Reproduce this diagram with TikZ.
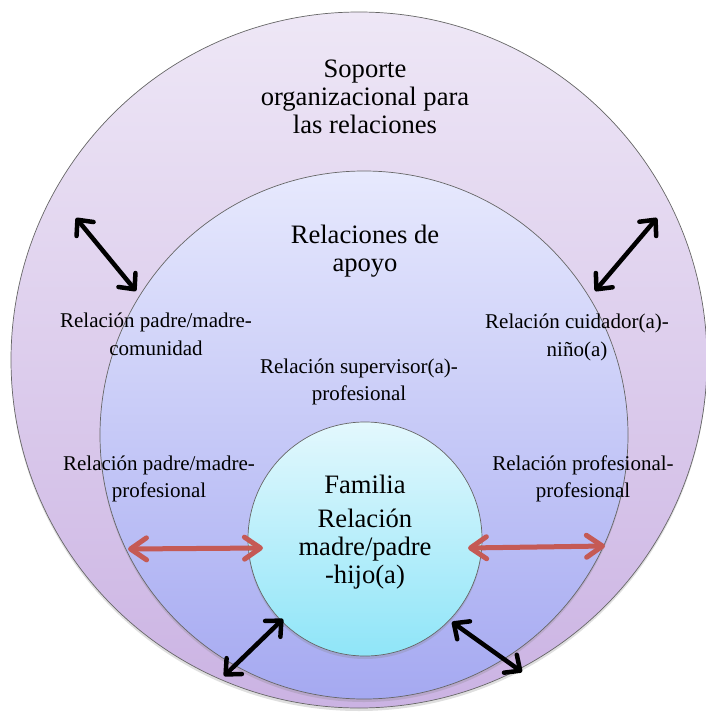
\documentclass[tikz,border=0pt]{standalone}
\usepackage{fontspec}
\setmainfont{Liberation Serif}
\usetikzlibrary{arrows.meta,shadows}
\definecolor{outtop}{HTML}{EEE7F6}
\definecolor{outbot}{HTML}{CBB3E3}
\definecolor{midtop}{HTML}{E7E9FD}
\definecolor{midbot}{HTML}{A5A9F1}
\definecolor{intop}{HTML}{E3F8FD}
\definecolor{inbot}{HTML}{8FE5F8}
\definecolor{arrred}{HTML}{C55A55}
\begin{document}
\begin{tikzpicture}[x=1pt,y=-1pt,
  ring/.style={circle, draw=black!60, line width=0.7pt, inner sep=0pt,
    drop shadow={shadow xshift=0pt, shadow yshift=-3pt, opacity=0.25}},
  bigtxt/.style={font=\fontsize{26.6}{28}\selectfont, align=center, inner sep=0pt},
  smalltxt/.style={font=\fontsize{21}{27.5}\selectfont, align=center, inner sep=0pt},
  blkarrow/.style={line width=4.5pt, black, line cap=round,
    {Straight Barb[round,length=12pt,width=22pt]}-{Straight Barb[round,length=12pt,width=22pt]}},
  redarrow/.style={line width=5pt, arrred, line cap=round,
    {Straight Barb[round,length=16pt,width=22pt]}-{Straight Barb[round,length=16pt,width=22pt]}}
]
\useasboundingbox (0,0) rectangle (706,717);
\node[ring, minimum size=696pt, top color=outtop, bottom color=outbot] (outer) at (359,360) {};
\node[ring, minimum size=528pt, top color=midtop, bottom color=midbot] (middle) at (364,435) {};
\node[ring, minimum size=234pt, top color=intop, bottom color=inbot] (inner) at (365,539) {};

\node[bigtxt] (soporte) at (365,97) {Soporte\\organizacional para\\las relaciones};
\node[bigtxt] (apoyo) at (365,251) {Relaciones de\\apoyo};
\node[smalltxt] (comunidad) at (156,334.5) {Relación padre/madre-\\comunidad};
\node[smalltxt] (cuidador) at (577,337.5) {Relación cuidador(a)-\\niño(a)};
\node[smalltxt] (supervisor) at (359,382) {Relación supervisor(a)-\\profesional};
\node[smalltxt] (padreprof) at (159,479) {Relación padre/madre-\\profesional};
\node[smalltxt] (profprof) at (583,479) {Relación profesional-\\profesional};
\node[bigtxt] (familia) at (365,484) {Familia};
\node[bigtxt] (hijo) at (365,549.5) {Relación\\madre/padre\\-hijo(a)};

\coordinate (ula) at (76,218);
\coordinate (ulb) at (136,291);
\coordinate (ura) at (657,218);
\coordinate (urb) at (595,291);
\coordinate (bla) at (224,676);
\coordinate (blb) at (283,619);
\coordinate (bra) at (452,622);
\coordinate (brb) at (522,672);
\coordinate (rla) at (128,549);
\coordinate (rlb) at (263,548);
\coordinate (rra) at (468,548);
\coordinate (rrb) at (605,546);

\draw[blkarrow] (ula) -- (ulb);
\draw[blkarrow] (ura) -- (urb);
\draw[blkarrow] (bla) -- (blb);
\draw[blkarrow] (bra) -- (brb);
\draw[redarrow] (rla) -- (rlb);
\draw[redarrow] (rra) -- (rrb);
\end{tikzpicture}
\end{document}
